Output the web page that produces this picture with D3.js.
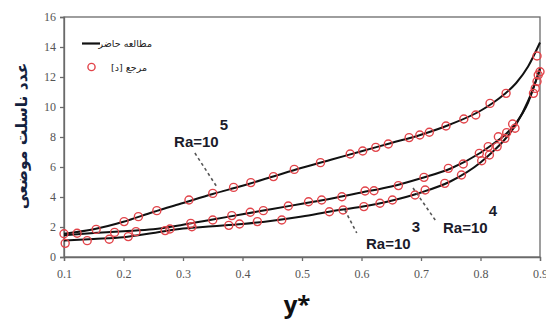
<!DOCTYPE html>
<html>
<head>
<meta charset="utf-8">
<script src="https://cdn.jsdelivr.net/npm/d3@7"></script>
<style>
  html, body { margin: 0; padding: 0; background: #fff; }
  svg { display: block; }
  .tick text { font-family: "Liberation Serif", "Times New Roman", serif; }
</style>
</head>
<body>
<svg id="chart" width="546" height="320"></svg>
<script>
// Local Nusselt number along y* — present study (lines) vs. reference [د] (circles)
const xTicks = [0.1, 0.2, 0.3, 0.4, 0.5, 0.6, 0.7, 0.8, 0.9];
const yTicks = [0, 2, 4, 6, 8, 10, 12, 14, 16];

// present-study curves, sampled along y*
const lineY = [0.1, 0.15, 0.2, 0.25, 0.3, 0.35, 0.4, 0.45, 0.5, 0.55, 0.6, 0.65, 0.7, 0.75, 0.8, 0.82, 0.84, 0.86, 0.88, 0.9];
const nuRa5 = [1.55, 1.85, 2.35, 3.0, 3.6, 4.2, 4.75, 5.35, 5.95, 6.5, 7.05, 7.6, 8.15, 8.85, 9.75, 10.25, 10.85, 11.6, 12.7, 14.3];
const nuRa4 = [1.45, 1.6, 1.72, 1.85, 2.15, 2.5, 2.85, 3.2, 3.55, 3.9, 4.3, 4.7, 5.25, 5.9, 6.95, 7.5, 8.1, 8.95, 10.3, 12.6];
const nuRa3 = [1.1, 1.2, 1.32, 1.6, 1.9, 2.05, 2.2, 2.42, 2.7, 3.05, 3.35, 3.75, 4.3, 5.05, 6.3, 7.0, 7.8, 8.85, 10.4, 12.5];

// reference data points
const refYRa5 = [0.1, 0.154, 0.201, 0.225, 0.256, 0.31, 0.35, 0.385, 0.414, 0.452, 0.487, 0.531, 0.581, 0.602, 0.624, 0.645, 0.68, 0.698, 0.714, 0.742, 0.772, 0.792, 0.816, 0.843, 0.895];
const refNuRa5 = [1.55, 1.84, 2.36, 2.69, 3.09, 3.8, 4.24, 4.64, 4.96, 5.36, 5.84, 6.29, 6.87, 7.07, 7.31, 7.53, 7.96, 8.13, 8.32, 8.73, 9.2, 9.47, 10.24, 10.91, 13.4];
const refYRa4 = [0.122, 0.185, 0.221, 0.27, 0.278, 0.313, 0.35, 0.382, 0.413, 0.435, 0.477, 0.511, 0.533, 0.567, 0.606, 0.621, 0.662, 0.705, 0.746, 0.771, 0.798, 0.813, 0.83, 0.844, 0.854, 0.897, 0.9];
const refNuRa4 = [1.58, 1.64, 1.69, 1.76, 1.87, 2.24, 2.47, 2.76, 2.98, 3.09, 3.4, 3.68, 3.8, 4.02, 4.4, 4.42, 4.76, 5.31, 5.91, 6.2, 6.91, 7.36, 8.02, 8.29, 8.87, 12.13, 12.35];
const refYRa3 = [0.102, 0.139, 0.176, 0.208, 0.315, 0.377, 0.395, 0.425, 0.466, 0.546, 0.569, 0.604, 0.631, 0.652, 0.69, 0.707, 0.74, 0.768, 0.802, 0.815, 0.828, 0.841, 0.858, 0.889, 0.892, 0.895];
const refNuRa3 = [0.91, 1.09, 1.18, 1.36, 2.02, 2.11, 2.2, 2.36, 2.47, 3.02, 3.13, 3.36, 3.58, 3.8, 4.13, 4.47, 4.91, 5.47, 6.42, 6.8, 7.36, 7.91, 8.58, 10.91, 11.24, 11.7];

const legendLine = "مطالعه حاضر";
const legendRef = "مرجع [د]";
const yTitle = "عدد ناسلت موضعی";
const xTitle = "y*";

const svg = d3.select("#chart");
const x = d3.scaleLinear().domain([0.1, 0.9]).range([64, 540]);
const y = d3.scaleLinear().domain([0, 16]).range([257, 17]);

const axisColor = "#6a6a6a";

// frame
svg.append("rect")
  .attr("x", x(0.1)).attr("y", y(16))
  .attr("width", x(0.9) - x(0.1)).attr("height", y(0) - y(16))
  .attr("fill", "none").attr("stroke", axisColor).attr("stroke-width", 1.3);

// axes
const gx = svg.append("g").attr("transform", `translate(0,${y(0)})`)
  .call(d3.axisBottom(x).tickValues(xTicks).tickFormat(d3.format(".1f")).tickSize(4).tickPadding(8));
const gy = svg.append("g").attr("transform", `translate(${x(0.1)},0)`)
  .call(d3.axisLeft(y).tickValues(yTicks).tickFormat(d3.format("d")).tickSize(4).tickPadding(4));
[gx, gy].forEach(g => {
  g.attr("font-family", null);
  g.select(".domain").attr("stroke", axisColor).attr("stroke-width", 1.3);
  g.selectAll(".tick line").attr("stroke", axisColor).attr("stroke-width", 1.3);
  g.selectAll(".tick text").attr("fill", "#555").attr("font-size", 12);
});

// present-study lines
const line = d3.line().x(d => x(d[0])).y(d => y(d[1])).curve(d3.curveMonotoneX);
[nuRa5, nuRa4, nuRa3].forEach(vals => {
  svg.append("path")
    .datum(lineY.map((v, i) => [v, vals[i]]))
    .attr("d", line)
    .attr("fill", "none").attr("stroke", "#111").attr("stroke-width", 2);
});

// reference circles
const red = "#e2444a";
[[refYRa5, refNuRa5], [refYRa4, refNuRa4], [refYRa3, refNuRa3]].forEach(([ys, nus]) => {
  svg.append("g").selectAll("circle")
    .data(ys.map((v, i) => [v, nus[i]]))
    .join("circle")
    .attr("cx", d => x(d[0])).attr("cy", d => y(d[1])).attr("r", 4)
    .attr("fill", "none").attr("stroke", red).attr("stroke-width", 1.4);
});

// Rayleigh-number annotations with dashed leaders
const annFont = "'Liberation Sans', Arial, sans-serif";
const annotations = [
  { label: [0.285, 7.33], exp: "5", from: [0.32, 6.93], to: [0.357, 4.67] },
  { label: [0.6076, 0.53], exp: "3", from: [0.572, 3.13], to: [0.592, 1.6] },
  { label: [0.737, 1.6], exp: "4", from: [0.6866, 4.6], to: [0.725, 2.4] }
];
annotations.forEach(a => {
  svg.append("line")
    .attr("x1", x(a.from[0])).attr("y1", y(a.from[1]))
    .attr("x2", x(a.to[0])).attr("y2", y(a.to[1]))
    .attr("stroke", "#555").attr("stroke-width", 1.6).attr("stroke-dasharray", "3,3");
  const t = svg.append("text")
    .attr("x", x(a.label[0])).attr("y", y(a.label[1]))
    .attr("font-family", annFont).attr("font-weight", "bold").attr("font-size", 15)
    .attr("fill", "#1b1b2a");
  t.append("tspan").text("Ra=10");
  t.append("tspan").attr("dy", -17).attr("dx", 1).text(a.exp);
});

// legend
svg.append("line")
  .attr("x1", 82).attr("x2", 100).attr("y1", 43.5).attr("y2", 43.5)
  .attr("stroke", "#111").attr("stroke-width", 2.2);
svg.append("text")
  .attr("x", 152).attr("y", 47)
  .attr("direction", "rtl").attr("text-anchor", "start")
  .attr("font-family", "'DejaVu Sans', sans-serif").attr("font-size", 9.5)
  .attr("fill", "#222").text(legendLine);
svg.append("circle")
  .attr("cx", 91.5).attr("cy", 67).attr("r", 3.6)
  .attr("fill", "none").attr("stroke", red).attr("stroke-width", 1.4);
svg.append("text")
  .attr("x", 147).attr("y", 70.5)
  .attr("direction", "rtl").attr("text-anchor", "start")
  .attr("font-family", "'DejaVu Sans', sans-serif").attr("font-size", 9.5)
  .attr("fill", "#222").text(legendRef);

// axis titles
svg.append("text")
  .attr("transform", "translate(27,136) rotate(-90)")
  .attr("text-anchor", "middle")
  .attr("font-family", "'DejaVu Sans', sans-serif").attr("font-weight", "bold").attr("font-size", 15.5)
  .attr("fill", "#14213d").text(yTitle);
svg.append("text")
  .attr("x", 297).attr("y", 313)
  .attr("text-anchor", "middle")
  .attr("font-family", "'Open Sans', 'Liberation Sans', sans-serif").attr("font-weight", "bold").attr("font-size", 24)
  .attr("fill", "#111").text(xTitle);
</script>
</body>
</html>
